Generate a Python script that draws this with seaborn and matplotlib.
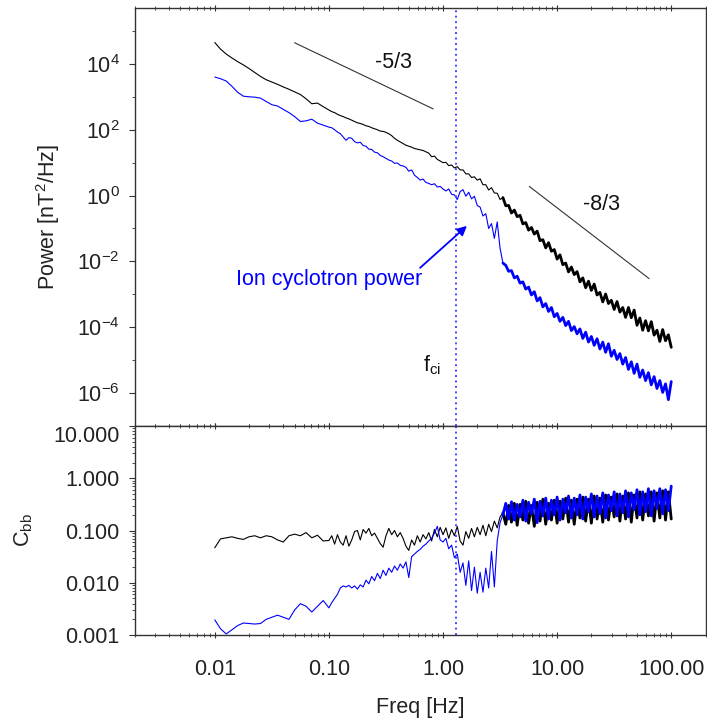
import numpy as np
import pandas as pd
import matplotlib
matplotlib.use("Agg")
import matplotlib.pyplot as plt
import matplotlib.ticker as mticker
import seaborn as sns

# frequency grid (log10 Hz), shared by every series
freq_log10 = [
    -2.00, -1.95, -1.90, -1.85, -1.80, -1.75, -1.70, -1.65, -1.60, -1.55,
    -1.50, -1.45, -1.40, -1.35, -1.30, -1.25, -1.20, -1.15, -1.10, -1.05,
    -1.00,
    -0.975, -0.950, -0.925, -0.900, -0.875, -0.850, -0.825, -0.800, -0.775, -0.750,
    -0.725, -0.700, -0.675, -0.650, -0.625, -0.600, -0.575, -0.550, -0.525, -0.500,
    -0.475, -0.450, -0.425, -0.400, -0.375, -0.350, -0.325, -0.300, -0.275, -0.250,
    -0.225, -0.200, -0.175, -0.150, -0.125, -0.100, -0.075, -0.050, -0.025, 0.000,
    0.025, 0.050, 0.075, 0.100, 0.125, 0.150, 0.175, 0.200, 0.225, 0.250,
    0.275, 0.300, 0.325, 0.350, 0.375, 0.400, 0.425, 0.450, 0.475, 0.500,
    0.525, 0.550, 0.575, 0.600, 0.625, 0.650, 0.675, 0.700, 0.725, 0.750,
    0.775, 0.800, 0.825, 0.850, 0.875, 0.900, 0.925, 0.950, 0.975, 1.000,
    1.025, 1.050, 1.075, 1.100, 1.125, 1.150, 1.175, 1.200, 1.225, 1.250,
    1.275, 1.300, 1.325, 1.350, 1.375, 1.400, 1.425, 1.450, 1.475, 1.500,
    1.525, 1.550, 1.575, 1.600, 1.625, 1.650, 1.675, 1.700, 1.725, 1.750,
    1.775, 1.800, 1.825, 1.850, 1.875, 1.900, 1.925, 1.950, 1.975, 2.000,
]

# total power, log10 nT^2/Hz
total_power_log10 = [
    4.65, 4.45, 4.30, 4.18, 4.07, 3.97, 3.86, 3.74, 3.62, 3.52,
    3.45, 3.38, 3.30, 3.23, 3.15, 3.07, 2.94, 2.79, 2.81, 2.70,
    2.60,
    2.55, 2.52, 2.47, 2.43, 2.40, 2.36, 2.33, 2.29, 2.25, 2.21,
    2.19, 2.16, 2.12, 2.10, 2.06, 2.03, 2.00, 1.96, 1.95, 1.92,
    1.88, 1.82, 1.74, 1.68, 1.63, 1.58, 1.53, 1.50, 1.47, 1.43,
    1.41, 1.39, 1.37, 1.33, 1.29, 1.18, 1.20, 1.10, 1.05, 1.00,
    1.01, 0.91, 0.93, 0.84, 0.88, 0.78, 0.78, 0.66, 0.66, 0.55,
    0.57, 0.47, 0.51, 0.33, 0.33, 0.17, 0.24, 0.08, 0.07, -0.12,
    -0.06, -0.31, -0.30, -0.53, -0.44, -0.64, -0.60, -0.86, -0.82, -1.05,
    -0.97, -1.17, -1.08, -1.37, -1.34, -1.59, -1.43, -1.69, -1.64, -1.93,
    -1.80, -2.10, -2.05, -2.32, -2.17, -2.40, -2.31, -2.62, -2.50, -2.80,
    -2.60, -2.88, -2.69, -3.02, -2.94, -3.23, -2.99, -3.28, -3.18, -3.46,
    -3.22, -3.54, -3.40, -3.70, -3.40, -3.71, -3.48, -3.94, -3.72, -4.09,
    -3.80, -4.11, -3.83, -4.24, -4.09, -4.43, -4.07, -4.41, -4.23, -4.61,
]

# ion cyclotron power, log10 nT^2/Hz
ic_power_log10 = [
    3.60, 3.55, 3.48, 3.32, 3.14, 3.02, 3.00, 2.99, 2.96, 2.86,
    2.76, 2.72, 2.62, 2.52, 2.40, 2.25, 2.27, 2.32, 2.20, 2.14,
    2.08,
    2.06, 2.00, 1.93, 1.88, 1.78, 1.68, 1.76, 1.74, 1.64, 1.60,
    1.62, 1.52, 1.50, 1.41, 1.40, 1.32, 1.30, 1.22, 1.18, 1.13,
    1.08, 1.05, 0.98, 0.99, 0.92, 0.90, 0.86, 0.74, 0.78, 0.62,
    0.55, 0.47, 0.50, 0.40, 0.37, 0.33, 0.36, 0.26, 0.28, 0.20,
    0.14, 0.20, 0.04, 0.02, -0.12, 0.12, 0.18, -0.02, 0.10, -0.10,
    -0.02, -0.30, -0.35, -0.62, -0.55, -1.00, -0.85, -1.30, -0.80, -1.60,
    -2.05, -2.12, -2.30, -2.28, -2.50, -2.45, -2.66, -2.62, -2.84, -2.78,
    -3.02, -2.92, -3.20, -3.10, -3.38, -3.28, -3.52, -3.40, -3.68, -3.58,
    -3.82, -3.70, -3.95, -3.82, -4.10, -3.98, -4.20, -4.05, -4.34, -4.15,
    -4.45, -4.28, -4.55, -4.35, -4.66, -4.45, -4.76, -4.50, -4.88, -4.70,
    -4.98, -4.80, -5.12, -4.92, -5.28, -5.05, -5.40, -5.12, -5.52, -5.30,
    -5.62, -5.38, -5.75, -5.50, -5.86, -5.62, -5.98, -5.72, -6.20, -5.65,
]

# compressibility Cbb, log10
total_cbb_log10 = [
    -1.33, -1.16, -1.14, -1.12, -1.15, -1.17, -1.12, -1.10, -1.14, -1.10,
    -1.12, -1.18, -1.22, -1.10, -1.07, -1.10, -1.04, -1.14, -1.09, -1.20,
    -1.19,
    -1.10, -1.26, -1.08, -1.22, -1.28, -1.10, -1.30, -1.18, -1.02, -1.00,
    -1.18, -0.98, -1.05, -0.96, -1.10, -1.05, -1.15, -1.25, -1.32, -1.10,
    -0.96, -1.08, -1.00, -1.12, -1.04, -1.15, -1.30, -1.38, -1.18, -1.28,
    -1.10, -1.22, -1.08, -1.16, -1.04, -1.20, -0.98, -1.12, -0.94, -1.08,
    -0.95, -1.15, -0.98, -1.10, -0.92, -1.20, -1.28, -1.02, -1.15, -0.96,
    -1.12, -0.94, -1.08, -0.90, -1.10, -0.88, -1.02, -0.82, -0.95, -0.74,
    -0.66, -0.88, -0.52, -0.84, -0.48, -0.90, -0.50, -0.80, -0.44, -0.86,
    -0.52, -0.92, -0.46, -0.82, -0.40, -0.88, -0.48, -0.80, -0.42, -0.86,
    -0.44, -0.78, -0.38, -0.84, -0.42, -0.88, -0.40, -0.76, -0.36, -0.82,
    -0.40, -0.86, -0.34, -0.78, -0.38, -0.84, -0.32, -0.80, -0.36, -0.74,
    -0.30, -0.82, -0.34, -0.78, -0.28, -0.84, -0.32, -0.76, -0.26, -0.80,
    -0.30, -0.72, -0.26, -0.82, -0.28, -0.76, -0.24, -0.80, -0.26, -0.78,
]

ic_cbb_log10 = [
    -2.71, -2.88, -2.98, -2.90, -2.82, -2.77, -2.78, -2.79, -2.78, -2.70,
    -2.66, -2.62, -2.66, -2.70, -2.52, -2.40, -2.45, -2.56, -2.45, -2.34,
    -2.48,
    -2.38, -2.30, -2.22, -2.10, -2.06, -2.08, -2.05, -2.10, -2.06, -2.12,
    -2.04, -2.08, -1.95, -2.02, -1.88, -1.96, -1.82, -1.92, -1.76, -1.86,
    -1.72, -1.80, -1.68, -1.76, -1.64, -1.72, -1.60, -1.90, -1.50, -1.45,
    -1.40, -1.36, -1.30, -1.26, -1.20, -1.15, -1.05, -0.92, -1.18, -1.22,
    -1.15, -1.35, -1.28, -1.52, -1.45, -1.80, -1.62, -2.05, -1.58, -2.15,
    -1.70, -2.20, -1.80, -2.18, -1.72, -2.10, -1.40, -2.08, -1.20, -0.85,
    -0.70, -0.48, -0.78, -0.45, -0.80, -0.50, -0.74, -0.42, -0.82, -0.46,
    -0.68, -0.40, -0.85, -0.44, -0.72, -0.38, -0.78, -0.42, -0.70, -0.36,
    -0.80, -0.40, -0.66, -0.34, -0.76, -0.38, -0.70, -0.32, -0.78, -0.36,
    -0.64, -0.30, -0.74, -0.34, -0.68, -0.28, -0.76, -0.32, -0.62, -0.26,
    -0.72, -0.30, -0.66, -0.24, -0.74, -0.28, -0.60, -0.22, -0.70, -0.26,
    -0.64, -0.20, -0.72, -0.24, -0.58, -0.20, -0.68, -0.22, -0.62, -0.15,
]

# reference power-law slopes (end points)
slope53_freq = [0.05, 0.82]
slope53_power = [4.4e4, 4.3e2]
slope83_freq = [5.7, 64.0]
slope83_power = [1.9, 3.0e-3]

f_ci = 1.29

xtick_vals = [0.01, 0.1, 1.0, 10.0, 100.0]
xtick_text = ["0.01", "0.10", "1.00", "10.00", "100.00"]
ptick_vals = [1e-6, 1e-4, 1e-2, 1e0, 1e2, 1e4]
ptick_text = ["10$^{-6}$", "10$^{-4}$", "10$^{-2}$", "10$^{0}$", "10$^{2}$", "10$^{4}$"]
ctick_vals = [0.001, 0.01, 0.1, 1.0, 10.0]
ctick_text = ["0.001", "0.010", "0.100", "1.000", "10.000"]

df = pd.DataFrame({
    "freq": 10.0 ** np.array(freq_log10),
    "total_power": 10.0 ** np.array(total_power_log10),
    "ic_power": 10.0 ** np.array(ic_power_log10),
    "total_cbb": 10.0 ** np.array(total_cbb_log10),
    "ic_cbb": 10.0 ** np.array(ic_cbb_log10),
})
noisy = df[df["freq"] >= 3.3]   # dense, noisy part of the spectra

sns.set_theme(style="ticks")
plt.rcParams["font.family"] = ["Liberation Sans", "DejaVu Sans"]
plt.rcParams["mathtext.fontset"] = "custom"
plt.rcParams["mathtext.rm"] = "Liberation Sans"
plt.rcParams["mathtext.default"] = "regular"

FS = 15.5
frame = "#333333"

fig = plt.figure(figsize=(7.07, 7.19), dpi=100)
ax1 = fig.add_axes([0.191, 0.4075, 0.807, 0.5814])
ax2 = fig.add_axes([0.191, 0.1168, 0.807, 0.2907])


def draw(ax, col, color):
    sns.lineplot(data=df, x="freq", y=col, ax=ax, color=color,
                 lw=0.8, estimator=None, sort=False)
    sns.lineplot(data=noisy, x="freq", y=col, ax=ax, color=color,
                 lw=2.0, estimator=None, sort=False)


# top: power spectra
draw(ax1, "total_power", "black")
draw(ax1, "ic_power", "blue")
ax1.plot(slope53_freq, slope53_power, color="#333333", lw=0.8)
ax1.plot(slope83_freq, slope83_power, color="#333333", lw=0.8)

# bottom: Cbb
draw(ax2, "total_cbb", "black")
draw(ax2, "ic_cbb", "blue")

for ax in (ax1, ax2):
    ax.set_xscale("log")
    ax.set_yscale("log")
    ax.set_xlim(0.002, 200)
    ax.axvline(f_ci, color="#4a4aff", ls=(0, (1, 1.8)), lw=1.4)
    for s in ax.spines.values():
        s.set_color(frame)
        s.set_linewidth(1.0)
    ax.set_xticks(xtick_vals)
    ax.xaxis.set_minor_locator(mticker.LogLocator(base=10, subs=np.arange(2, 10)))
    ax.xaxis.set_minor_formatter(mticker.NullFormatter())
    ax.tick_params(axis="x", which="major", direction="inout", length=5,
                   width=0.8, color=frame, top=True, bottom=True)
    ax.tick_params(axis="x", which="minor", direction="inout", length=3,
                   width=0.6, color=frame, top=True, bottom=True)
    ax.tick_params(axis="y", which="major", direction="out", length=4,
                   width=0.8, color=frame, left=True, right=False,
                   labelsize=FS, pad=7, labelcolor="#222222")
    ax.tick_params(axis="y", which="minor", direction="out", length=2.5,
                   width=0.6, color=frame, left=True, right=False)

ax1.set_ylim(1e-7, 5e5)
ax1.set_yticks(ptick_vals)
ax1.set_yticklabels(ptick_text)
ax1.yaxis.set_minor_locator(mticker.FixedLocator([1e-7, 1e-5, 1e-3, 1e-1, 1e1, 1e3, 1e5]))
ax1.yaxis.set_minor_formatter(mticker.NullFormatter())
ax1.tick_params(axis="x", labelbottom=False)
ax1.set_xlabel("")
ax1.set_ylabel("Power [nT$^2$/Hz]", fontsize=FS, color="#222222")
ax1.yaxis.set_label_coords(-0.128, 0.5)

ax1.text(0.37, 1.1e4, "-5/3", fontsize=FS, ha="center", va="center", color="#111111")
ax1.text(24.3, 0.54, "-8/3", fontsize=FS, ha="center", va="center", color="#111111")
ax1.text(0.0153, 10 ** -2.555, "Ion cyclotron power", fontsize=FS, color="blue",
         ha="left", va="center")
ax1.annotate("", xy=(1.62, 0.12), xytext=(0.63, 6.4e-3),
             arrowprops=dict(arrowstyle="-|>", color="blue", lw=1.3,
                             mutation_scale=14, shrinkA=0, shrinkB=0))
ax1.text(0.80, 7e-6, "f$_{ci}$", fontsize=FS, ha="center", va="center", color="#111111")

ax2.set_ylim(0.001, 10)
ax2.set_yticks(ctick_vals)
ax2.set_yticklabels(ctick_text)
ax2.yaxis.set_minor_locator(mticker.LogLocator(base=10, subs=np.arange(2, 10)))
ax2.yaxis.set_minor_formatter(mticker.NullFormatter())
ax2.get_yticklabels()[-1].set_va("top")
ax2.set_xticklabels(xtick_text)
ax2.tick_params(axis="x", which="major", labelsize=FS, pad=15, labelcolor="#222222")
ax2.set_ylabel("C$_{bb}$", fontsize=FS, color="#222222")
ax2.yaxis.set_label_coords(-0.175, 0.5)
ax2.set_xlabel("Freq [Hz]", fontsize=FS, color="#222222")
ax2.xaxis.set_label_coords(0.5, -0.297)

fig.savefig("out.png", dpi=100, facecolor="white")
